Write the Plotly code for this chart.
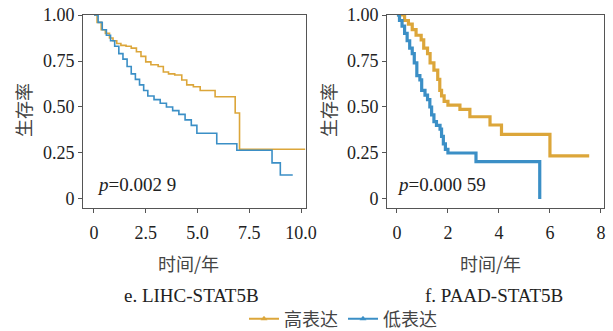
import plotly.graph_objects as go

# ---------------- data ----------------
yticks_vals = [0, 0.25, 0.5, 0.75, 1.0]
yticks_text = ["0", "0.25", "0.50", "0.75", "1.00"]

lihc_xticks_vals = [0, 2.5, 5.0, 7.5, 10.0]
lihc_xticks_text = ["0", "2.5", "5.0", "7.5", "10.0"]
paad_xticks_vals = [0, 2, 4, 6, 8]
paad_xticks_text = ["0", "2", "4", "6", "8"]

# LIHC-STAT5B
lihc_high_t = [0, 0.15, 0.35, 0.55, 0.75, 0.92, 1.1, 1.3, 1.55, 1.8, 2.05, 2.27, 2.5, 2.75, 3.1,
               3.35, 3.6, 3.9, 4.24, 4.48, 4.8, 5.13, 5.85, 6.82, 7.03, 10.2]
lihc_high_s = [1, 0.96, 0.92, 0.9, 0.875, 0.86, 0.845, 0.835, 0.83, 0.82, 0.8, 0.775, 0.745, 0.73, 0.72,
               0.69, 0.68, 0.674, 0.647, 0.62, 0.61, 0.59, 0.556, 0.467, 0.27, 0.27]
lihc_low_t = [0, 0.2, 0.4, 0.6, 0.8, 1.0, 1.2, 1.4, 1.6, 1.8, 2.0, 2.2, 2.4, 2.6, 2.9, 3.2, 3.5,
              3.8, 4.1, 4.4, 4.7, 4.97, 5.93, 6.9, 8.6, 9.0, 9.6]
lihc_low_s = [1, 0.96, 0.92, 0.89, 0.86, 0.83, 0.79, 0.76, 0.72, 0.68, 0.65, 0.62, 0.59, 0.56, 0.54, 0.52, 0.5,
              0.48, 0.46, 0.43, 0.40, 0.357, 0.30, 0.265, 0.196, 0.13, 0.13]

# PAAD-STAT5B
paad_high_t = [0, 0.3, 0.45, 0.6, 0.75, 0.95, 1.05, 1.2, 1.3, 1.45, 1.6, 1.68, 1.75, 1.85, 2.0,
               2.47, 2.86, 3.65, 4.1, 6.0, 7.54]
paad_high_s = [1, 0.97, 0.95, 0.92, 0.89, 0.865, 0.82, 0.79, 0.74, 0.70, 0.65, 0.59, 0.56, 0.53, 0.51,
               0.487, 0.447, 0.402, 0.351, 0.234, 0.234]
paad_low_t = [0, 0.1, 0.2, 0.3, 0.4, 0.5, 0.6, 0.68, 0.78, 0.9, 0.97, 1.1, 1.2, 1.29, 1.36, 1.45,
              1.55, 1.69, 1.75, 1.82, 1.9, 2.0, 3.1, 5.6]
paad_low_s = [1, 0.97, 0.94, 0.9, 0.86, 0.82, 0.79, 0.74, 0.67, 0.647, 0.59, 0.565, 0.54, 0.5, 0.457, 0.42,
              0.40, 0.38, 0.34, 0.3, 0.27, 0.25, 0.203, 0]

p_texts = ["<i>p</i>=0.002 9", "<i>p</i>=0.000 59"]
subtitles = ["e. LIHC-STAT5B", "f. PAAD-STAT5B"]
xtitle = "时间/年"
ytitle = "生存率"
legend_names = ["高表达", "低表达"]

# ---------------- style ----------------
W, H = 613, 331
GOLD = "#DCA63A"
BLUE = "#3B8FC6"
SERIF = "Liberation Serif"
CJK = "Noto Sans CJK SC"
TXT = "#444444"
AX = "#555555"

def px(x):
    return x / W

def py(y):
    return 1 - y / H

fig = go.Figure()
fig.add_trace(go.Scatter(x=lihc_high_t, y=lihc_high_s, mode="lines", line=dict(color=GOLD, width=1.6, shape="hv"),
                         xaxis="x", yaxis="y", showlegend=False))
fig.add_trace(go.Scatter(x=lihc_low_t, y=lihc_low_s, mode="lines", line=dict(color=BLUE, width=1.6, shape="hv"),
                         xaxis="x", yaxis="y", showlegend=False))
fig.add_trace(go.Scatter(x=paad_high_t, y=paad_high_s, mode="lines", line=dict(color=GOLD, width=3.2, shape="hv"),
                         xaxis="x2", yaxis="y2", showlegend=False))
fig.add_trace(go.Scatter(x=paad_low_t, y=paad_low_s, mode="lines", line=dict(color=BLUE, width=3.2, shape="hv"),
                         xaxis="x2", yaxis="y2", showlegend=False))

for name, col in zip(legend_names, [GOLD, BLUE]):
    fig.add_trace(go.Scatter(x=[None], y=[None], mode="lines+markers", name=name,
                             line=dict(color=col, width=2),
                             marker=dict(symbol="triangle-up", size=6, color=col),
                             xaxis="x", yaxis="y"))

ydom = [py(208), py(15)]
axis_common = dict(showline=True, mirror=True, linecolor=AX, linewidth=1, ticks="outside", ticklen=4,
                   tickcolor=AX, showgrid=False, zeroline=False, automargin=False,
                   tickfont=dict(family=SERIF, size=18, color="#222222"))

fig.update_layout(
    width=W, height=H,
    margin=dict(l=0, r=0, t=0, b=0, autoexpand=False),
    paper_bgcolor="white", plot_bgcolor="white",
    xaxis=dict(domain=[px(83), px(306)], range=[-0.53, 10.24], anchor="y", ticklabelstandoff=4,
               tickvals=lihc_xticks_vals, ticktext=lihc_xticks_text, **axis_common),
    yaxis=dict(domain=ydom, range=[-0.049, 1.0], anchor="x",
               tickvals=yticks_vals, ticktext=yticks_text, **axis_common),
    xaxis2=dict(domain=[px(387), px(604)], range=[-0.39, 8.12], anchor="y2", ticklabelstandoff=4,
                tickvals=paad_xticks_vals, ticktext=paad_xticks_text, **axis_common),
    yaxis2=dict(domain=ydom, range=[-0.049, 1.0], anchor="x2",
                tickvals=yticks_vals, ticktext=yticks_text, **axis_common),
    legend=dict(orientation="h", x=px(343), y=py(319), xanchor="center", yanchor="middle",
                font=dict(family=CJK, size=18, color=TXT), bgcolor="rgba(0,0,0,0)",
                itemwidth=30, tracegroupgap=0),
    showlegend=True,
)

ann = []
for cx, sub in [(188, subtitles[0]), (490, subtitles[1])]:
    ann.append(dict(text=xtitle, x=px(cx), y=py(263), xref="paper", yref="paper", showarrow=False,
                    xanchor="center", yanchor="middle", font=dict(family=CJK, size=18, color=TXT)))
    ann.append(dict(text=sub, x=px(cx + 4), y=py(295), xref="paper", yref="paper", showarrow=False,
                    xanchor="center", yanchor="middle", font=dict(family=SERIF, size=19, color="#222222")))
for cx in [23, 328]:
    ann.append(dict(text=ytitle, x=px(cx), y=py(110), xref="paper", yref="paper", showarrow=False,
                    textangle=-90, xanchor="center", yanchor="middle", font=dict(family=CJK, size=18, color=TXT)))
for lx, t in zip([95, 395], p_texts):
    ann.append(dict(text=t, x=px(lx), y=py(184), xref="paper", yref="paper", showarrow=False,
                    xanchor="left", yanchor="middle", font=dict(family=SERIF, size=19, color="#222222")))
fig.update_layout(annotations=ann)

fig.write_html("out.html", config={"displayModeBar": False},
               post_script="document.body.style.margin='0';document.body.style.overflow='hidden';")
